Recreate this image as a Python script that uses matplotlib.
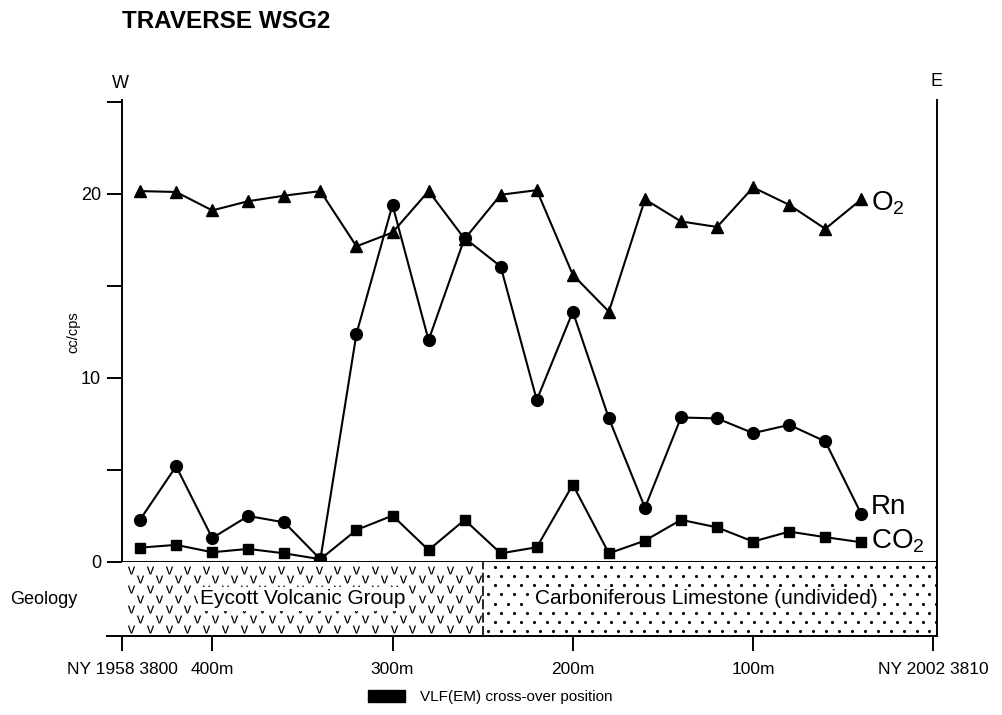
import matplotlib.pyplot as plt
import numpy as np
from matplotlib.patches import Patch

plt.rcParams['font.family'] = ['Liberation Sans', 'DejaVu Sans']
plt.rcParams['mathtext.fontset'] = 'custom'
plt.rcParams['mathtext.rm'] = 'Liberation Sans'
plt.rcParams['mathtext.default'] = 'rm'
NARROW = ['Liberation Sans Narrow', 'Liberation Sans']

# --- data (distance in m from the E end)
dist = [440, 420, 400, 380, 360, 340, 320, 300, 280, 260, 240,
        220, 200, 180, 160, 140, 120, 100, 80, 60, 40]
o2 = [20.15, 20.1, 19.1, 19.6, 19.9, 20.15, 17.15, 17.9, 20.15, 17.55, 19.95,
      20.2, 15.6, 13.6, 19.7, 18.5, 18.2, 20.35, 19.4, 18.1, 19.7]
rn = [2.3, 5.2, 1.3, 2.5, 2.15, 0.15, 12.4, 19.4, 12.05, 17.6, 16.05,
      8.8, 13.6, 7.8, 2.95, 7.85, 7.8, 7.0, 7.45, 6.55, 2.6]
co2 = [0.78, 0.93, 0.53, 0.71, 0.47, 0.15, 1.74, 2.52, 0.65, 2.29, 0.47,
       0.8, 4.2, 0.47, 1.16, 2.29, 1.88, 1.11, 1.65, 1.35, 1.07]

yticks = [0, 5, 10, 15, 20, 25]
ytick_labels = ['0', '', '10', '', '20', '']
xticks = [450, 400, 300, 200, 100, 0]
xtick_labels = ['NY 1958 3800', '400m', '300m', '200m', '100m', 'NY 2002 3810']
boundary = 250   # volcanic / limestone contact

fig = plt.figure(figsize=(10.02, 7.15), dpi=100)
ax = fig.add_axes([0.1218, 0.2140, 0.8134, 0.6462])
geo = fig.add_axes([0.1218, 0.1105, 0.8134, 0.1035])

ax.plot(dist, o2, '-^', color='black', lw=1.5, ms=8.5)
ax.plot(dist, rn, '-o', color='black', lw=1.5, ms=8.5)
ax.plot(dist, co2, '-s', color='black', lw=1.5, ms=7.5)

ax.annotate('O$_2$', xy=(dist[-1], o2[-1]), xytext=(7, -8),
            textcoords='offset points', fontsize=20, va='baseline')
ax.annotate('Rn', xy=(dist[-1], rn[-1]), xytext=(7, 0),
            textcoords='offset points', fontsize=20, va='baseline')
ax.annotate('CO$_2$', xy=(dist[-1], co2[-1]), xytext=(7, -4.5),
            textcoords='offset points', fontsize=20, va='baseline')

ax.set_xlim(450, -2)
ax.set_ylim(0, 25.1)
ax.spines['top'].set_visible(False)
for s in ['left', 'right', 'bottom']:
    ax.spines[s].set_linewidth(1.4)
ax.set_xticks([])
ax.set_yticks(yticks)
ax.set_yticklabels(ytick_labels, fontfamily=NARROW, fontsize=13)
ax.tick_params(axis='y', direction='out', length=11, width=1.4, pad=4)

fig.text(73 / 1002, 1 - 332 / 715, 'cc/cps', rotation=90, ha='center',
         va='center', fontsize=10.5, family=NARROW)
fig.text(120 / 1002, 1 - 84 / 715, 'W', ha='center', va='center', fontsize=13)
fig.text(936 / 1002, 1 - 81 / 715, 'E', ha='center', va='center', fontsize=13,
         family=NARROW)
fig.text(122 / 1002, 1 - 21 / 715, 'TRAVERSE WSG2', ha='left', va='center',
         fontsize=17.5, fontweight='bold')

# --- geology strip
geo.set_xlim(450, -2)
geo.set_ylim(0, 1)
geo.spines['left'].set_visible(False)
geo.spines['top'].set_visible(False)
for s in ['right', 'bottom']:
    geo.spines[s].set_linewidth(1.4)
geo.set_yticks([])
geo.set_xticks(xticks)
geo.set_xticklabels(xtick_labels, fontfamily=NARROW, fontsize=12.5)
geo.tick_params(axis='x', direction='out', length=11, width=1.4, pad=8)
geo.axhline(0, xmin=-0.018, xmax=0, color='black', lw=1.4, clip_on=False)
geo.axvline(boundary, color='black', lw=1.2, ls=(0, (6, 2)))

# volcanic "v" ornament
vx, vy = [], []
for j in range(7):
    for x in np.arange(445 - (j % 2) * 5.2, boundary + 2, -10.4):
        vx.append(x)
        vy.append(0.1 + 0.133 * j)
geo.scatter(vx, vy, marker='$\\mathrm{v}$', s=32, color='black', lw=0)

# limestone dot ornament
dx, dy = [], []
for j in range(8):
    for x in np.arange(boundary - 3 - (j % 2) * 3.6, -2, -7.2):
        dx.append(x)
        dy.append(0.07 + 0.123 * j)
geo.scatter(dx, dy, marker='o', s=5, color='black', lw=0)

box = dict(facecolor='white', edgecolor='none', pad=1.5)
geo.text(350, 0.5, 'Eycott Volcanic Group', ha='center', va='center',
         fontsize=15, bbox=box, zorder=5)
geo.text(126, 0.5, 'Carboniferous Limestone (undivided)', ha='center',
         va='center', fontsize=15, bbox=box, zorder=5)
fig.text(44 / 1002, 1 - 600 / 715, 'Geology', ha='center', va='center',
         fontsize=13)

fig.legend(handles=[Patch(facecolor='black', edgecolor='black')],
           labels=['VLF(EM) cross-over position'], loc='center left',
           bbox_to_anchor=(368 / 1002, 1 - 697 / 715), frameon=False,
           handlelength=2.4, handleheight=0.85, handletextpad=1.0,
           borderpad=0, borderaxespad=0,
           prop={'family': NARROW, 'size': 11})

fig.savefig('out.png', dpi=100)
